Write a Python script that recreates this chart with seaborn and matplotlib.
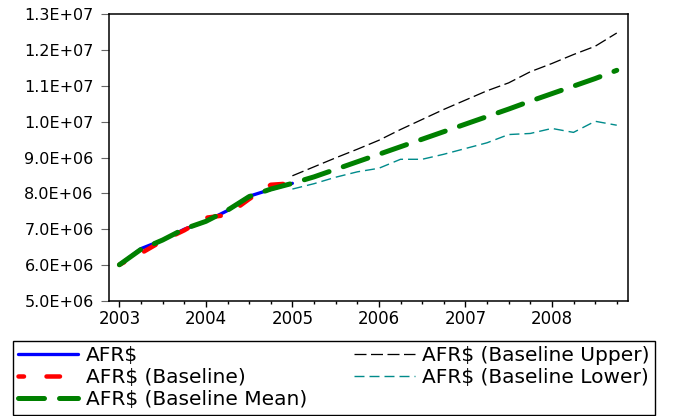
import matplotlib
matplotlib.use("Agg")
import matplotlib.pyplot as plt
import seaborn as sns
from matplotlib.ticker import FuncFormatter, MultipleLocator, FixedLocator

# ---------------- data ----------------
quarters_hist = ["2003Q1", "2003Q2", "2003Q3", "2003Q4", "2004Q1", "2004Q2",
                 "2004Q3", "2004Q4", "2005Q1"]
quarters_fcst = ["2005Q1", "2005Q2", "2005Q3", "2005Q4", "2006Q1", "2006Q2",
                 "2006Q3", "2006Q4", "2007Q1", "2007Q2", "2007Q3", "2007Q4",
                 "2008Q1", "2008Q2", "2008Q3", "2008Q4"]
quarters_all = quarters_hist[:-1] + quarters_fcst

actual = [6.01e6, 6.46e6, 6.70e6, 7.00e6, 7.22e6, 7.52e6, 7.92e6, 8.11e6, 8.28e6]
baseline = [6.01e6, 6.33e6, 6.68e6, 6.97e6, 7.32e6, 7.40e6, 7.84e6, 8.24e6, 8.28e6]
baseline_mean = [6.01e6, 6.44e6, 6.70e6, 7.01e6, 7.22e6, 7.53e6, 7.91e6, 8.12e6,
                 8.28e6, 8.46e6, 8.67e6, 8.88e6, 9.09e6, 9.30e6, 9.51e6, 9.72e6,
                 9.93e6, 10.14e6, 10.35e6, 10.57e6, 10.78e6, 10.99e6, 11.20e6, 11.43e6]
baseline_upper = [8.49e6, 8.74e6, 8.99e6, 9.23e6, 9.48e6, 9.78e6, 10.06e6, 10.34e6,
                  10.60e6, 10.86e6, 11.08e6, 11.39e6, 11.62e6, 11.87e6, 12.10e6, 12.47e6]
baseline_lower = [8.12e6, 8.27e6, 8.45e6, 8.60e6, 8.70e6, 8.95e6, 8.95e6, 9.09e6,
                  9.25e6, 9.41e6, 9.64e6, 9.67e6, 9.81e6, 9.70e6, 10.01e6, 9.90e6]

year_ticks = [2003, 2004, 2005, 2006, 2007, 2008]
labels = ["AFR$", "AFR$ (Baseline)", "AFR$ (Baseline Mean)",
          "AFR$ (Baseline Upper)", "AFR$ (Baseline Lower)"]


def qpos(q):
    return int(q[:4]) + (int(q[-1]) - 1) / 4.0


xh = [qpos(q) for q in quarters_hist]
xf = [qpos(q) for q in quarters_fcst]
xa = [qpos(q) for q in quarters_all]

# ---------------- style ----------------
sns.set_style("white")
plt.rcParams["font.family"] = ["DejaVu Sans"]
plt.rcParams["lines.scale_dashes"] = False
plt.rcParams["text.color"] = "black"

PX = 0.72  # points per pixel at dpi 100

fig = plt.figure(figsize=(6.84, 4.16), dpi=100)
ax = fig.add_axes([109 / 684, 1 - 301 / 416, (628 - 109) / 684, (301 - 14) / 416])

sns.lineplot(x=xh, y=actual, ax=ax, color="#0000FF", lw=3.3 * PX,
             solid_capstyle="round", label=labels[0])
sns.lineplot(x=xh, y=baseline, ax=ax, color="#FF0000", lw=4.5 * PX,
             linestyle=(8 * PX, (13.5 * PX, 22.5 * PX)), dash_capstyle="round",
             label=labels[1])
sns.lineplot(x=xa, y=baseline_mean, ax=ax, color="#008000", lw=5 * PX,
             linestyle=(0, (26 * PX, 15 * PX)), dash_capstyle="round",
             label=labels[2])
sns.lineplot(x=xf, y=baseline_upper, ax=ax, color="black", lw=1.3 * PX,
             linestyle=(0, (12 * PX, 4.5 * PX)), label=labels[3])
sns.lineplot(x=xf, y=baseline_lower, ax=ax, color="#008B8B", lw=1.4 * PX,
             linestyle=(0, (10 * PX, 5 * PX)), label=labels[4])

ax.set_xlim(2002.88, 2008.88)
ax.set_ylim(5e6, 1.3e7)
ax.set_xlabel("")
ax.set_ylabel("")

ax.xaxis.set_major_locator(FixedLocator(year_ticks))
ax.xaxis.set_minor_locator(MultipleLocator(0.25))
ax.xaxis.set_major_formatter(FuncFormatter(lambda v, p: f"{int(round(v))}"))
ax.yaxis.set_major_locator(MultipleLocator(1e6))
ax.yaxis.set_major_formatter(FuncFormatter(lambda v, p: f"{v:.1E}"))

ax.tick_params(axis="x", which="major", bottom=True, top=False, direction="out",
               length=4.3, width=1.0, color="black", labelsize=12, pad=2,
               labelcolor="black")
ax.tick_params(axis="x", which="minor", bottom=True, top=False, direction="out",
               length=2.5, width=1.0, color="black")
ax.tick_params(axis="y", which="major", left=True, right=False, direction="out",
               length=6, width=0.8, color="#666666", labelsize=11.5, pad=5,
               labelcolor="black")

for s in ax.spines.values():
    s.set_visible(True)
    s.set_color("black")
    s.set_linewidth(1.1)

handles, labs = ax.get_legend_handles_labels()
leg = ax.legend(handles, labs, ncol=2, loc="upper left",
                bbox_to_anchor=(12.7 / 684, 1 - 341 / 416),
                bbox_transform=fig.transFigure, borderaxespad=0,
                frameon=True, fancybox=False, edgecolor="black", framealpha=1,
                fontsize=14.5, handlelength=3.0, handletextpad=0.38,
                columnspacing=2.35, labelspacing=0.16, borderpad=0.25)
leg.get_frame().set_linewidth(1.0)

fig.savefig("out.png", dpi=100)
